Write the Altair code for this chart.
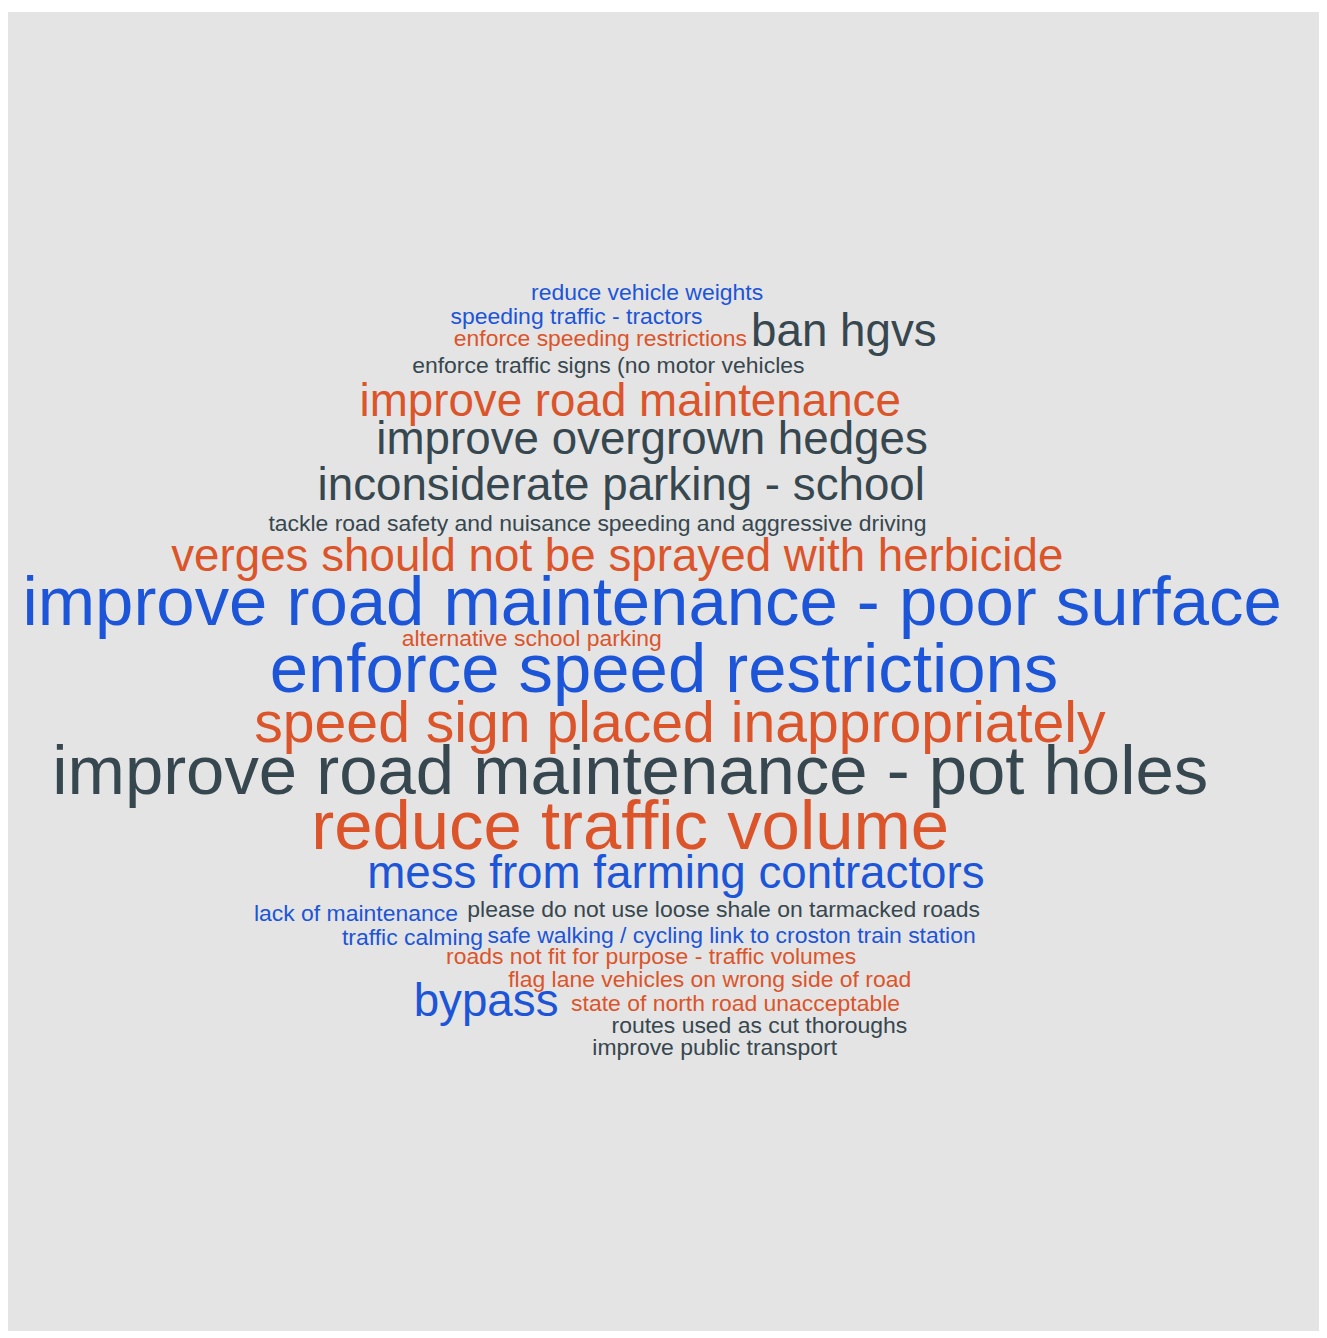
import altair as alt
import pandas as pd

phrases = [
    "reduce vehicle weights",
    "speeding traffic - tractors",
    "enforce speeding restrictions",
    "ban hgvs",
    "enforce traffic signs (no motor vehicles",
    "improve road maintenance",
    "improve overgrown hedges",
    "inconsiderate parking - school",
    "tackle road safety and nuisance speeding and aggressive driving",
    "verges should not be sprayed with herbicide",
    "improve road maintenance - poor surface",
    "alternative school parking",
    "enforce speed restrictions",
    "speed sign placed inappropriately",
    "improve road maintenance - pot holes",
    "reduce traffic volume",
    "mess from farming contractors",
    "lack of maintenance",
    "please do not use loose shale on tarmacked roads",
    "traffic calming",
    "safe walking / cycling link to croston train station",
    "roads not fit for purpose - traffic volumes",
    "flag lane vehicles on wrong side of road",
    "bypass",
    "state of north road unacceptable",
    "routes used as cut thoroughs",
    "improve public transport",
]
# relative frequency rank of each phrase (1 = mentioned least)
weight = [1, 1, 1, 2, 1, 2, 2, 2, 1, 2, 4, 1, 4, 3, 4, 4, 2, 1, 1, 1, 1, 1, 1, 2, 1, 1, 1]
# colour group
group = ["b", "b", "o", "d", "d", "o", "d", "d", "d", "o", "b", "o", "b", "o", "d", "o", "b",
         "b", "d", "b", "b", "o", "o", "b", "o", "d", "d"]
# word-cloud layout (centre x, baseline y)
cx = [651, 580, 604, 849, 612, 634, 656, 625, 601, 621, 656, 535, 668, 684, 634, 634, 680,
      358, 728, 415, 736, 655, 714, 489, 740, 764, 719]
cy = [298, 322, 344, 344, 371, 414, 453, 499, 530, 570, 625, 646, 692, 742, 795, 850, 889,
      923, 918, 947, 945, 966, 989, 1018, 1013, 1035, 1057]

df = pd.DataFrame({"phrase": phrases, "weight": weight, "group": group, "cx": cx, "cy": cy})

W, H = 1319, 1327

chart = alt.Chart(df).mark_text(
    align="center", baseline="alphabetic", font="Liberation Sans, Arial, sans-serif"
).encode(
    x=alt.X("cx:Q", scale=alt.Scale(domain=[8, 8 + W]), axis=None),
    y=alt.Y("cy:Q", scale=alt.Scale(domain=[8 + H, 8]), axis=None),
    text="phrase:N",
    size=alt.Size("weight:O", scale=alt.Scale(type="ordinal", domain=[1, 2, 3, 4],
                                              range=[23.1, 46, 57.5, 69.3]), legend=None),
    color=alt.Color("group:N", scale=alt.Scale(domain=["b", "o", "d"],
                                               range=["#1c55d8", "#dc542a", "#37474f"]), legend=None),
).properties(
    width=W, height=H, padding=0, autosize=alt.AutoSizeParams(type="none"),
    background="white"
).configure_view(fill="#e4e4e4", stroke=None)

chart.save("out.html", embed_options={"renderer": "svg", "actions": False})
